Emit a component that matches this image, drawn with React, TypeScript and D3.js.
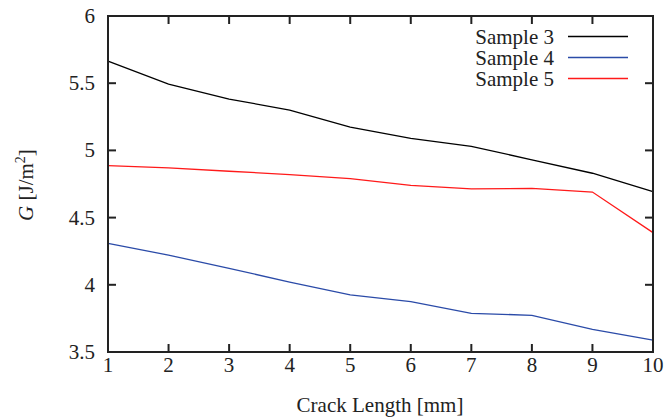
import React from "react";
import * as d3 from "d3";

const crackLength = [1, 2, 3, 4, 5, 6, 7, 8, 9, 10];
const sample3 = [5.665, 5.494, 5.382, 5.30, 5.174, 5.09, 5.03, 4.93, 4.83, 4.693];
const sample4 = [4.309, 4.22, 4.123, 4.02, 3.925, 3.875, 3.788, 3.773, 3.669, 3.589];
const sample5 = [4.886, 4.87, 4.845, 4.82, 4.79, 4.74, 4.713, 4.717, 4.69, 4.388];
const seriesNames = ["Sample 3", "Sample 4", "Sample 5"];
const seriesColors = ["#000000", "#2b4ba8", "#ff1a1a"];
const xTicks = [1, 2, 3, 4, 5, 6, 7, 8, 9, 10];
const yTicks = [3.5, 4, 4.5, 5, 5.5, 6];

export default function App() {
  const W = 668, H = 420;
  const left = 108, right = 653, top = 16, bottom = 352;
  const x = d3.scaleLinear().domain([1, 10]).range([left, right]);
  const y = d3.scaleLinear().domain([3.5, 6]).range([bottom, top]);
  const series = [sample3, sample4, sample5];
  const line = d3
    .line<number>()
    .x((_, i) => x(crackLength[i]))
    .y((d) => y(d));
  const font = "'Liberation Serif', 'Times New Roman', serif";
  const tl = 8;
  const fs = 21;
  return (
    <svg
      width={W}
      height={H}
      style={{ position: "absolute", left: 0, top: 0, background: "#fff", fontFamily: font }}
    >
      {series.map((s, i) => (
        <path key={i} d={line(s) || ""} fill="none" stroke={seriesColors[i]} strokeWidth={1.3} />
      ))}
      {xTicks.map((t) => (
        <g key={"x" + t}>
          <line x1={x(t)} x2={x(t)} y1={bottom} y2={bottom - tl} stroke="#222" strokeWidth={2} />
          <line x1={x(t)} x2={x(t)} y1={top} y2={top + tl} stroke="#222" strokeWidth={2} />
          <text x={x(t)} y={372} textAnchor="middle" fontSize={fs} fill="#222">
            {t}
          </text>
        </g>
      ))}
      {yTicks.map((t) => (
        <g key={"y" + t}>
          <line x1={left} x2={left + tl} y1={y(t)} y2={y(t)} stroke="#222" strokeWidth={2} />
          <line x1={right} x2={right - tl} y1={y(t)} y2={y(t)} stroke="#222" strokeWidth={2} />
          <text x={95} y={y(t) + 7} textAnchor="end" fontSize={fs} fill="#222">
            {t}
          </text>
        </g>
      ))}
      <rect x={left} y={top} width={right - left} height={bottom - top} fill="none" stroke="#222" strokeWidth={2} />
      {seriesNames.map((n, i) => (
        <g key={n}>
          <text x={554} y={44 + i * 21} textAnchor="end" fontSize={fs} fill="#222">
            {n}
          </text>
          <line x1={568} x2={628} y1={36.5 + i * 21} y2={36.5 + i * 21} stroke={seriesColors[i]} strokeWidth={1.3} />
        </g>
      ))}
      <text x={380} y={411.5} textAnchor="middle" fontSize={fs} fill="#222">
        Crack Length [mm]
      </text>
      <text transform="translate(33,185) rotate(-90)" textAnchor="middle" fontSize={fs} fill="#222">
        <tspan fontStyle="italic">G</tspan>
        <tspan> [J/m</tspan>
        <tspan fontSize={14} dy={-8}>2</tspan>
        <tspan dy={8}>]</tspan>
      </text>
    </svg>
  );
}
